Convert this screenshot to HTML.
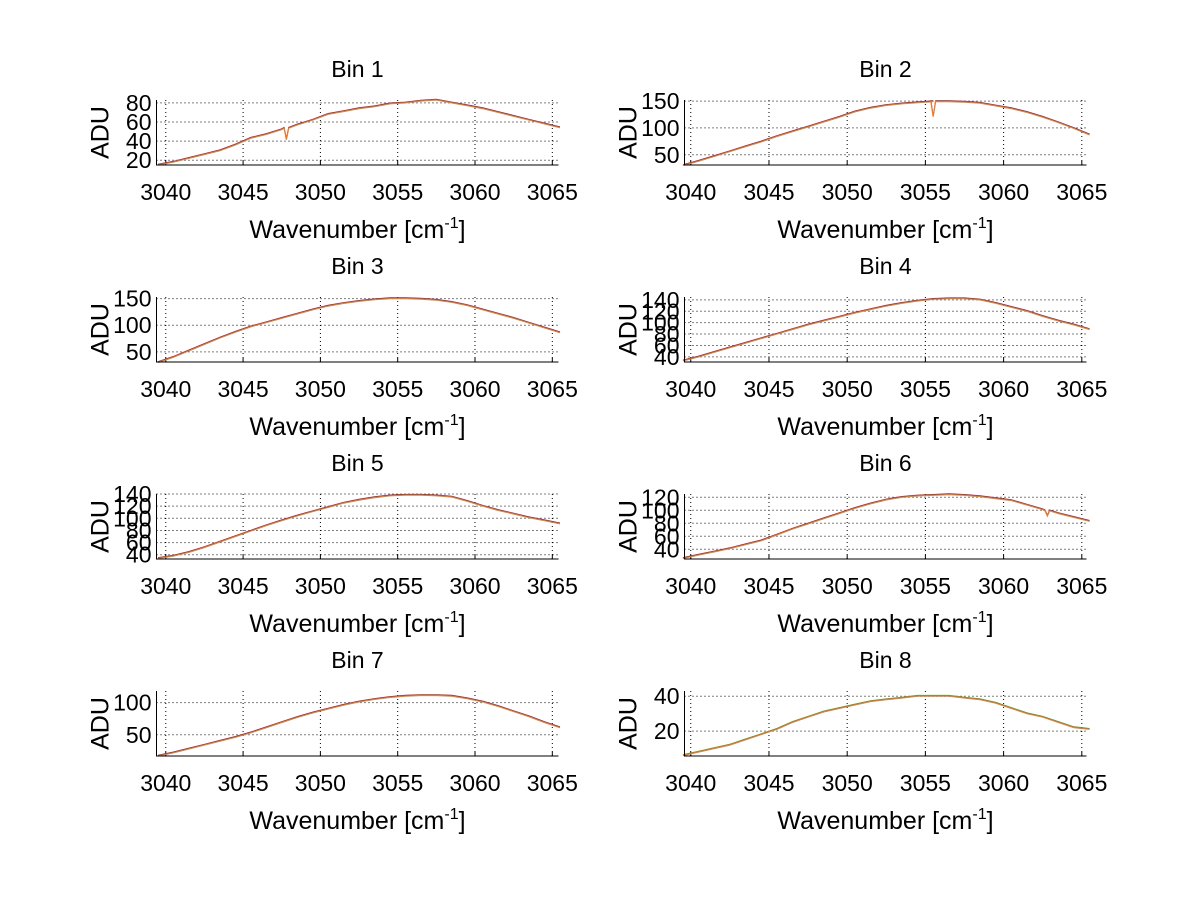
<!DOCTYPE html>
<html><head><meta charset="utf-8">
<style>
html,body{margin:0;padding:0;background:#fff;}
svg text{font-family:"Liberation Sans",sans-serif;fill:#000;}
</style></head>
<body>
<svg id="fig" width="1200" height="901" viewBox="0 0 1200 901" xmlns="http://www.w3.org/2000/svg">
<rect width="1200" height="901" fill="#fff"/>
</svg>
<script>
// shared wavenumber grid (cm^-1)
const wavenumbers = [3039.5,3040.5,3041.5,3042.5,3043.5,3044.5,3045.5,3046.5,3047.5,3048.5,3049.5,3050.5,3051.5,3052.5,3053.5,3054.5,3055.5,3056.5,3057.5,3058.5,3059.5,3060.5,3061.5,3062.5,3063.5,3064.5,3065.5];
const xTicks = [3040,3045,3050,3055,3060,3065];
const binTitles = ["Bin 1","Bin 2","Bin 3","Bin 4","Bin 5","Bin 6","Bin 7","Bin 8"];
const bin1 = [15,18,22,26,30,36,43,47,52,57,62,68,71,74,76,79,80,82,83,80,77,74,70,66,62,58,54];
const bin2 = [30,38,47,56,65,74,84,93,102,111,120,130,137,142,145,147,149,149,148,146,141,136,129,120,110,99,87];
const bin3 = [30,40,52,64,76,87,97,105,113,121,129,136,141,145,148,150,150,149,147,143,137,129,121,113,104,95,86];
const bin4 = [33,40,48,56,64,72,80,88,96,103,110,117,123,129,134,138,141,142,142,140,134,127,120,111,103,96,88];
const bin5 = [34,38,44,52,61,70,79,88,96,104,111,118,125,130,134,137,138,138,137,135,128,120,113,107,101,96,91];
const bin6 = [26,31,36,41,47,53,62,71,79,87,95,103,110,116,120,122,123,124,123,121,118,115,108,101,95,89,83];
const bin7 = [17,22,28,34,40,46,53,61,69,77,84,90,96,101,105,108,110,111,111,110,106,101,94,86,78,69,61];
const bin8 = [6,8,10,12,15,18,21,25,28,31,33,35,37,38,39,40,40,40,39,38,36,33,30,28,25,22,21];
const binSeries = [bin1,bin2,bin3,bin4,bin5,bin6,bin7,bin8];
// absorption dips: [bin index, wavenumber, depth]
const dips = [[0,3047.8,12],[1,3055.5,28],[5,3062.8,8]];
const yMin = [15,31,31,31,33,25,17,5.7];
const yMax = [83,152,153,145,140,125,118,43];
const yTicks1 = [20,40,60,80];
const yTicks2 = [50,100,150];
const yTicks3 = [50,100,150];
const yTicks4 = [40,60,80,100,120,140];
const yTicks5 = [40,60,80,100,120,140];
const yTicks6 = [40,60,80,100,120];
const yTicks7 = [50,100];
const yTicks8 = [20,40];
const yTickSets = [yTicks1,yTicks2,yTicks3,yTicks4,yTicks5,yTicks6,yTicks7,yTicks8];

const NS = "http://www.w3.org/2000/svg";
const svg = document.getElementById('fig');
function mk(tag, attrs, parent){
  const e = document.createElementNS(NS, tag);
  for (const k in attrs) e.setAttribute(k, attrs[k]);
  (parent||svg).appendChild(e);
  return e;
}
const colX = [[156.5,558.5,3039.4,3065.4],[684.5,1086.5,3039.6,3065.3]];
for (let b=0;b<8;b++){
  const col = b%2, row = Math.floor(b/2);
  const [px0,px1,d0,d1] = colX[col];
  const py0 = 100 + row*197, py1 = py0 + 65;
  const xs = v => px0 + (v-d0)/(d1-d0)*(px1-px0);
  const ys = v => py1 - (v-yMin[b])/(yMax[b]-yMin[b])*(py1-py0);
  const g = mk('g',{});
  
  
  xTicks.forEach(t=>{
    const x = xs(t);
    const l = mk('line',{x1:x,x2:x,y1:py0,y2:py1,stroke:'#000','stroke-width':1,'stroke-dasharray':'1,3'},g);
    
    
    mk('line',{x1:x,x2:x,y1:py1,y2:py1-4,stroke:'#000'},g);
    const tx = mk('text',{x:x,y:py1+35,'text-anchor':'middle','font-size':23},g);
    tx.textContent = t;
    
    
  });
  yTickSets[b].forEach(t=>{
    const y = ys(t);
    const l = mk('line',{x1:px0,x2:px1,y1:y,y2:y,stroke:'#000','stroke-width':1,'stroke-dasharray':'1,3'},g);
    
    
    const tx = mk('text',{x:px0-5,y:y+8,'text-anchor':'end','font-size':23},g);
    tx.textContent = t;
    
    
  });
  const vals = binSeries[b];
  let pts = wavenumbers.map((w,i)=>[w,vals[i]]);
  dips.filter(d=>d[0]===b).forEach(d=>{
    const w=d[1];
    let i = pts.findIndex(p=>p[0]>w);
    const a=pts[i-1], c=pts[i];
    const base = a[1]+(c[1]-a[1])*(w-a[0])/(c[0]-a[0]);
    pts.splice(i,0,[w-0.15,base],[w,base-d[2]],[w+0.15,base]);
  });
  const path = pts.map((p,i)=>(i?'L':'M')+xs(p[0]).toFixed(1)+','+ys(p[1]).toFixed(1)).join(' ');
  const under = mk('path',{d:path,fill:'none',stroke:b===7?'#3a9a6a':'#5a3a8a','stroke-width':1,transform:'translate(0,-0.8)'},g);
  
  
  const line = mk('path',{d:path,fill:'none',stroke:'#f07a20','stroke-width':1.2},g);
  
  
  const ax = mk('path',{d:`M${px0},${py0} L${px0},${py1} L${px1},${py1}`,fill:'none',stroke:'#000','stroke-width':1},g);
  
  
  const tt = mk('text',{x:(px0+px1)/2,y:py0-23,'text-anchor':'middle','font-size':23},g);
  tt.textContent = binTitles[b];
  
  
  const xl = mk('text',{x:(px0+px1)/2,y:py1+73,'text-anchor':'middle','font-size':25},g);
  xl.innerHTML = 'Wavenumber [cm<tspan dy="-10" font-size="16">-1</tspan><tspan dy="10">]</tspan>';
  
  
  const yl = mk('text',{x:0,y:0,'text-anchor':'middle','font-size':25,transform:`translate(${px0-48},${(py0+py1)/2}) rotate(-90)`},g);
  yl.textContent = 'ADU';
  
  
}
</script>
</body></html>
